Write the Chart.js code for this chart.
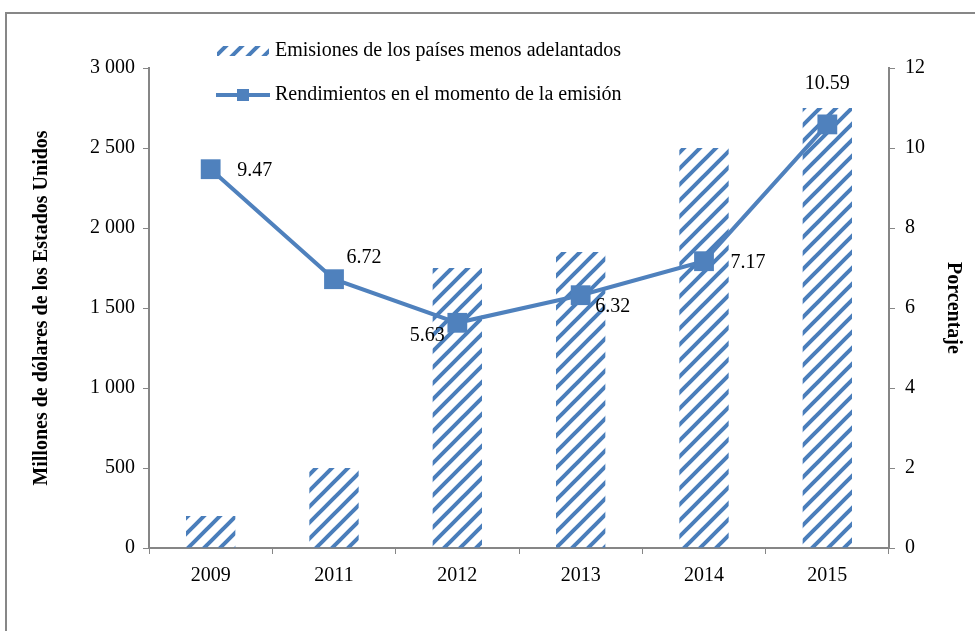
<!DOCTYPE html>
<html>
<head>
<meta charset="utf-8">
<script src="https://cdn.jsdelivr.net/npm/chart.js@4"></script>
<style>
  body { margin: 0; background: #fff; }
  #wrap { width: 975px; height: 631px; position: relative; }
</style>
</head>
<body>
<div id="wrap"><canvas id="chart" width="975" height="631"></canvas></div>
<script>
var years = ["2009", "2011", "2012", "2013", "2014", "2015"];
var emisiones = [200, 500, 1750, 1850, 2500, 2750];
var rendimientos = [9.47, 6.72, 5.63, 6.32, 7.17, 10.59];
var labelSpots = ["right", "upright", "downleft", "downright", "right", "top"];

var blue = "#4f81bd";
var font = "'Liberation Serif', 'Times New Roman', serif";
var fs = 20;

function stripes() {
	var c = document.createElement("canvas");
	c.width = 16; c.height = 16;
	var g = c.getContext("2d");
	g.strokeStyle = "#4a7ebb";
	g.lineWidth = 4;
	g.beginPath();
	for (var k = -16; k <= 32; k += 16) {
		g.moveTo(k - 8, 24);
		g.lineTo(k + 24, -8);
	}
	g.stroke();
	return g.createPattern(c, "repeat");
}
var pat = stripes();

var frame = {
	id: "frame",
	beforeDraw: function(chart) {
		var ctx = chart.ctx;
		ctx.save();
		ctx.strokeStyle = "#878787";
		ctx.lineWidth = 2;
		ctx.beginPath();
		ctx.moveTo(6, 631);
		ctx.lineTo(6, 13);
		ctx.lineTo(975, 13);
		ctx.stroke();
		ctx.restore();
	}
};

var pointLabels = {
	id: "pointLabels",
	afterDatasetsDraw: function(chart) {
		var ctx = chart.ctx;
		var meta = chart.getDatasetMeta(1);
		ctx.save();
		ctx.font = fs + "px " + font;
		ctx.fillStyle = "#000";
		ctx.textBaseline = "middle";
		meta.data.forEach(function(p, i) {
			var txt = rendimientos[i].toFixed(2);
			var x = p.x, y = p.y;
			var s = labelSpots[i];
			ctx.textAlign = "center";
			if (s == "right") { x += 44; y += 2; }
			if (s == "upright") { x += 30; y -= 21; }
			if (s == "downleft") { x -= 30; y += 13; }
			if (s == "downright") { x += 32; y += 12; }
			if (s == "top") { y -= 41; }
			ctx.fillText(txt, x, y);
		});
		ctx.restore();
	}
};

var legendBox = {
	id: "legendBox",
	afterDraw: function(chart) {
		var ctx = chart.ctx;
		ctx.save();
		ctx.font = fs + "px " + font;
		ctx.textBaseline = "middle";
		ctx.textAlign = "left";
		// bar entry
		ctx.fillStyle = pat;
		ctx.fillRect(217, 46, 52, 10);
		ctx.fillStyle = "#000";
		ctx.fillText("Emisiones de los países menos adelantados", 275, 51);
		// line entry
		ctx.strokeStyle = blue;
		ctx.lineWidth = 4;
		ctx.beginPath();
		ctx.moveTo(216, 95);
		ctx.lineTo(270, 95);
		ctx.stroke();
		ctx.fillStyle = blue;
		ctx.fillRect(237, 89, 12, 12);
		ctx.fillStyle = "#000";
		ctx.fillText("Rendimientos en el momento de la emisión", 275, 95);
		ctx.restore();
	}
};

new Chart(document.getElementById("chart"), {
	type: "bar",
	data: {
		labels: years,
		datasets: [
			{
				type: "bar",
				label: "Emisiones de los países menos adelantados",
				data: emisiones,
				backgroundColor: pat,
				borderWidth: 0,
				categoryPercentage: 1,
				barPercentage: 0.4,
				yAxisID: "y",
				order: 2
			},
			{
				type: "line",
				label: "Rendimientos en el momento de la emisión",
				data: rendimientos,
				borderColor: blue,
				backgroundColor: blue,
				borderWidth: 4,
				pointStyle: "rect",
				pointRadius: 14,
				pointHoverRadius: 14,
				pointBorderWidth: 0,
				tension: 0,
				yAxisID: "y1",
				order: 1
			}
		]
	},
	options: {
		responsive: false,
		animation: false,
		layout: { padding: { left: 30, right: 2, top: 68, bottom: 0 } },
		plugins: {
			legend: { display: false },
			tooltip: { enabled: false }
		},
		scales: {
			x: {
				grid: { display: true, drawOnChartArea: false, offset: true, color: "#868686", tickLength: 6 },
				border: { color: "#868686", width: 2 },
				ticks: { color: "#000", font: { family: font, size: fs }, padding: 10 },
				afterFit: function(s) { s.height = 83; }
			},
			y: {
				position: "left",
				min: 0, max: 3000,
				ticks: {
					stepSize: 500, color: "#000", padding: 8,
					font: { family: font, size: fs },
					callback: function(v) { return v >= 1000 ? Math.floor(v / 1000) + " " + String(v % 1000).padStart(3, "0") : String(v); }
				},
				grid: { drawOnChartArea: false, color: "#868686", tickLength: 6 },
				border: { color: "#868686", width: 2 },
				title: { display: true, text: "Millones de dólares de los Estados Unidos", color: "#000", font: { family: font, size: fs, weight: "bold" }, padding: { top: 0, bottom: 8 } },
				afterFit: function(s) { s.width = 119; }
			},
			y1: {
				position: "right",
				min: 0, max: 12,
				ticks: { stepSize: 2, color: "#000", padding: 10, font: { family: font, size: fs } },
				grid: { drawOnChartArea: false, color: "#868686", tickLength: 6 },
				border: { color: "#868686", width: 2 },
				title: { display: true, text: "Porcentaje", color: "#000", font: { family: font, size: fs, weight: "bold" }, padding: { top: 8, bottom: 0 } },
				afterFit: function(s) { s.width = 84; }
			}
		}
	},
	plugins: [frame, pointLabels, legendBox]
});
</script>
</body>
</html>
